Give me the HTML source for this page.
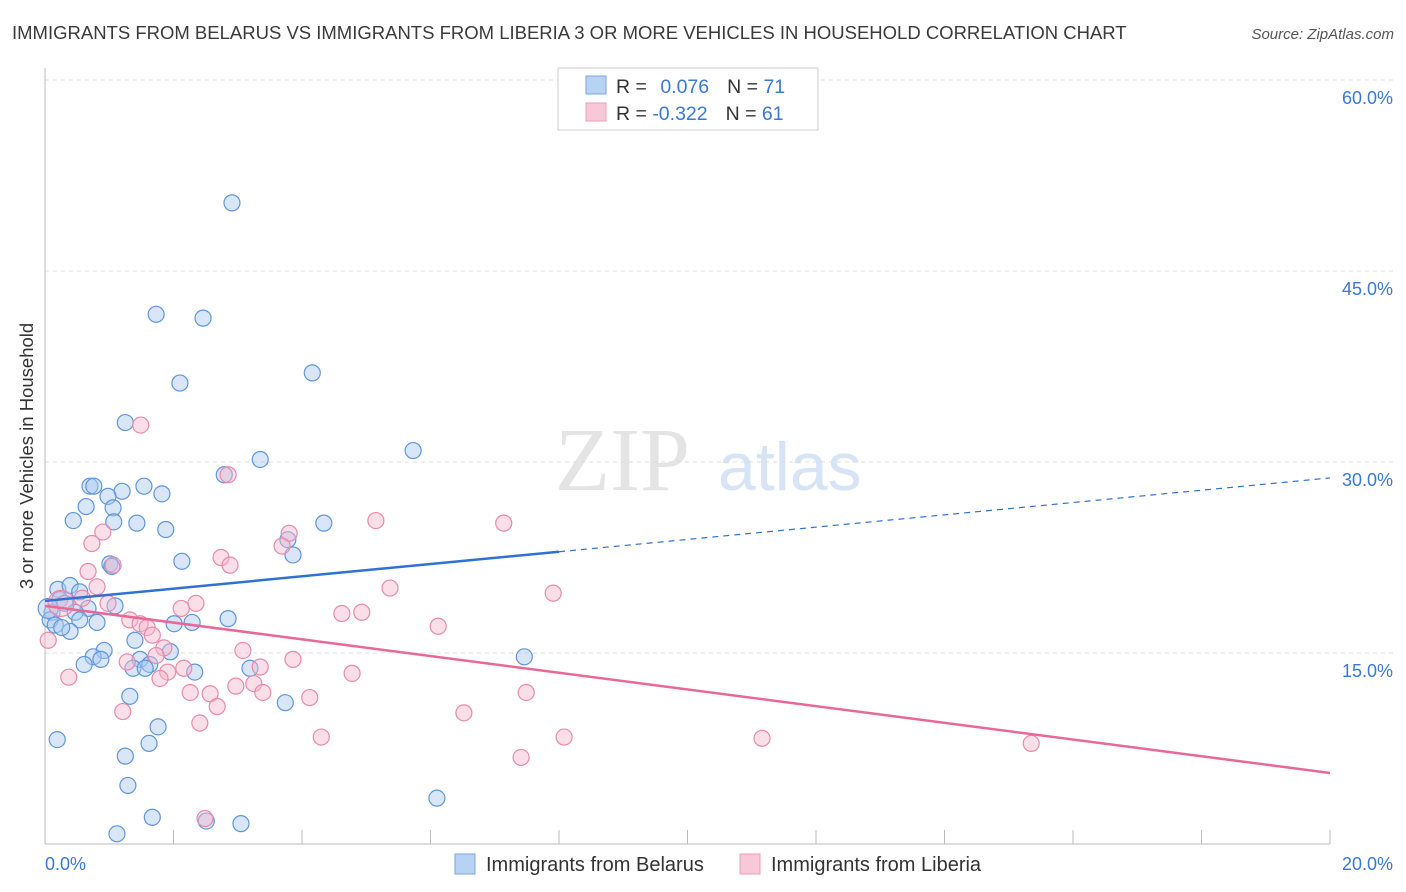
<!DOCTYPE html>
<html><head><meta charset="utf-8"><style>
body{margin:0;background:#fff;font-family:"Liberation Sans",sans-serif;}
svg{display:block}
</style></head><body>
<svg id="chart" width="1406" height="892" xmlns="http://www.w3.org/2000/svg" font-family="Liberation Sans, sans-serif">
<text x="12" y="39" font-size="18.5" fill="#3a3a3a">IMMIGRANTS FROM BELARUS VS IMMIGRANTS FROM LIBERIA 3 OR MORE VEHICLES IN HOUSEHOLD CORRELATION CHART</text>
<text x="1394" y="39" font-size="15" fill="#555" text-anchor="end" font-style="italic">Source: ZipAtlas.com</text>
<text transform="translate(33,456) rotate(-90)" font-size="18.5" fill="#333" text-anchor="middle">3 or more Vehicles in Household</text>
<g><text x="555" y="490" font-size="90" fill="#e4e4e4" font-family="Liberation Serif, serif">ZIP</text><text x="718" y="490" font-size="68" fill="#d6e4f5">atlas</text></g>
<g id="grid"></g>
<g id="ticks"></g>
<g id="pts"></g>
<g id="lines"></g>
<g>
<rect x="558" y="68" width="260" height="62" fill="#fff" stroke="#ccc"/>
<rect x="586" y="76" width="20" height="18" fill="#b8d2f4" stroke="#7aa6e0"/>
<rect x="586" y="103" width="20" height="18" fill="#f8c8d8" stroke="#ec9cb8"/>
<text x="616" y="93" font-size="19.5" fill="#333">R = <tspan fill="#3a78d6" dx="8">0.076</tspan><tspan dx="18" fill="#333">N = </tspan><tspan fill="#3a78d6">71</tspan></text>
<text x="616" y="120" font-size="19.5" fill="#333">R = <tspan fill="#3a78d6">-0.322</tspan><tspan dx="18" fill="#333">N = </tspan><tspan fill="#3a78d6">61</tspan></text>
</g>
<g>
<rect x="455" y="854" width="20" height="20" fill="#b8d2f4" stroke="#7aa6e0"/>
<text x="486" y="871" font-size="20" fill="#333">Immigrants from Belarus</text>
<rect x="740" y="854" width="20" height="20" fill="#f8c8d8" stroke="#ec9cb8"/>
<text x="771" y="871" font-size="20" fill="#333">Immigrants from Liberia</text>
</g>
</svg>
<script>
const yTicks=[15,30,45,60];
const yTickLabels=["15.0%","30.0%","45.0%","60.0%"];
const xTicks=[0,2,4,6,8,10,12,14,16,18,20];
const xEndLabels=["0.0%","20.0%"];
const blueX=[2.91,1.73,2.46,2.10,4.16,1.25,5.73,3.35,2.79,0.70,0.76,1.54,1.20,1.82,0.98,0.64,1.06,0.44,1.07,1.43,4.34,1.88,3.78,3.86,2.13,1.01,1.04,0.20,0.39,0.54,0.23,0.31,1.09,0.67,0.11,0.47,0.08,0.16,0.54,0.81,0.39,0.26,2.85,2.01,2.29,1.40,0.92,0.75,0.87,1.95,1.48,0.61,1.63,1.37,1.56,2.33,3.19,7.46,1.32,3.74,1.76,0.19,1.62,1.25,1.29,6.10,1.67,2.51,3.05,1.12,0.05];
const blueY=[50.35,41.6,41.3,36.2,37.0,33.1,30.9,30.2,29.0,28.1,28.1,28.1,27.7,27.5,27.3,26.5,26.4,25.4,25.3,25.2,25.2,24.7,23.9,22.7,22.2,22.0,21.8,20.0,20.3,19.8,19.2,18.9,18.7,18.5,18.2,18.2,17.6,17.2,17.6,17.4,16.7,17.0,17.7,17.3,17.4,16.0,15.2,14.7,14.5,15.1,14.5,14.1,14.1,13.8,13.8,13.5,13.8,14.7,11.6,11.1,9.2,8.2,7.9,6.9,4.6,3.6,2.1,1.8,1.6,0.8,18.5];
const pinkX=[1.49,2.85,5.15,7.14,3.80,3.69,0.73,0.90,2.74,2.88,1.06,0.67,5.37,7.91,0.81,0.58,0.98,2.35,2.12,4.93,4.62,1.32,1.48,1.59,1.67,6.12,1.85,1.73,3.08,1.28,3.86,2.16,1.91,3.35,4.78,1.79,0.37,2.97,3.25,2.26,2.57,3.39,4.12,7.49,2.68,1.21,6.52,2.41,4.30,8.08,11.16,15.35,7.41,2.49,0.05,0.25];
const pinkY=[32.9,29.0,25.4,25.2,24.4,23.4,23.6,24.5,22.5,21.9,21.9,21.4,20.1,19.7,20.2,19.3,18.9,18.9,18.5,18.2,18.1,17.6,17.3,17.0,16.4,17.1,15.4,14.8,15.2,14.3,14.5,13.8,13.5,13.9,13.4,13.0,13.1,12.4,12.6,11.9,11.8,11.9,11.5,11.9,10.8,10.4,10.3,9.5,8.4,8.4,8.3,7.9,6.8,2.0,16.0,18.9];
const blueTrend=[19.09,28.75];
const pinkTrend=[18.7,5.58];
const blueSolidEnd=8;

const NS="http://www.w3.org/2000/svg";
const X0=45,X1=1330,Y0=844,PY=12.733;
const sx=v=>X0+(X1-X0)*v/20, sy=v=>Y0-v*PY;
function mk(tag,attrs,parent){const e=document.createElementNS(NS,tag);for(const k in attrs)e.setAttribute(k,attrs[k]);document.getElementById(parent).appendChild(e);return e;}
yTicks.forEach((t,i)=>{
 const l=mk('line',{x1:X0,x2:1393,y1:sy(t),y2:sy(t),stroke:'#ddd','stroke-dasharray':'4,4'},'grid');
 
 
 const tx=mk('text',{x:1393,y:sy(t)+24,'font-size':18,fill:'#3a78d6','text-anchor':'end'},'ticks');
 tx.textContent=yTickLabels[i];
 
 
});
const ax=mk('line',{x1:X0,x2:X0,y1:68,y2:Y0,stroke:'#bbb'},'ticks');


const bx=mk('line',{x1:X0,x2:X1,y1:Y0,y2:Y0,stroke:'#bbb'},'ticks');


xTicks.forEach(t=>{
 const l=mk('line',{x1:sx(t),x2:sx(t),y1:830,y2:Y0,stroke:'#bbb'},'ticks');
 
 
});
[[0,'start',45],[20,'end',1393]].forEach((d,i)=>{
 const tx=mk('text',{x:d[2],y:870,'font-size':18,fill:'#3a78d6','text-anchor':d[1]},'ticks');
 tx.textContent=xEndLabels[i];
 
 
});
function dots(xs,ys,fill,stroke,name){xs.forEach((x,i)=>{
 const r=(i===xs.length-1&&name==='pink-point')?13:8;
 const c=mk('circle',{cx:sx(x),cy:sy(ys[i]),r:(name==='blue-point'&&i===xs.length-1)?10:r,fill:fill,'fill-opacity':0.45,stroke:stroke,'stroke-width':1.2},'pts');
 
 
});}
dots(blueX,blueY,'#a8c8f0','#5e96dc','blue-point');
dots(pinkX,pinkY,'#f4b8cc','#e88aac','pink-point');
const bAt=x=>blueTrend[0]+(blueTrend[1]-blueTrend[0])*x/20;
const l1=mk('line',{x1:sx(0),y1:sy(bAt(0)),x2:sx(blueSolidEnd),y2:sy(bAt(blueSolidEnd)),stroke:'#2f72d4','stroke-width':2.5},'lines');


const l2=mk('line',{x1:sx(blueSolidEnd),y1:sy(bAt(blueSolidEnd)),x2:sx(20),y2:sy(bAt(20)),stroke:'#2f72d4','stroke-width':1.2,'stroke-dasharray':'6,5'},'lines');


const l3=mk('line',{x1:sx(0),y1:sy(pinkTrend[0]),x2:sx(20),y2:sy(pinkTrend[1]),stroke:'#e8689a','stroke-width':2.5},'lines');


</script>
</body></html>
